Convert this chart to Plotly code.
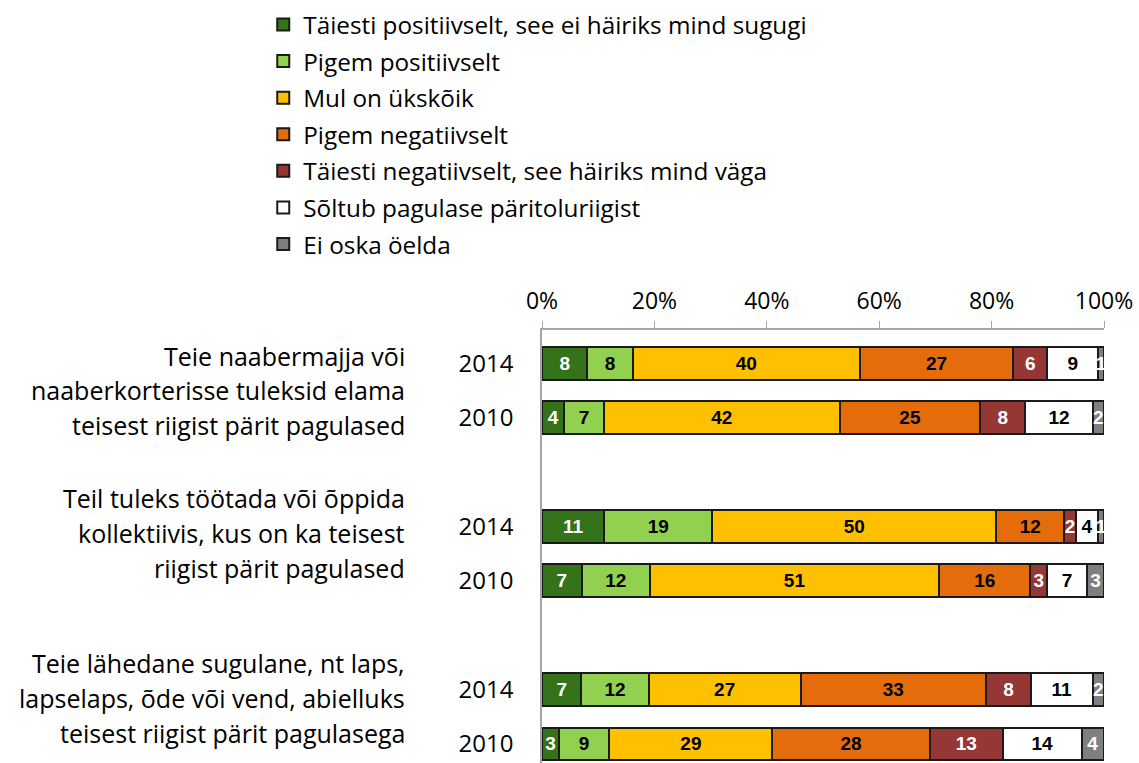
import plotly.graph_objects as go

series_names = [
    "Täiesti positiivselt, see ei häiriks mind sugugi",
    "Pigem positiivselt",
    "Mul on ükskõik",
    "Pigem negatiivselt",
    "Täiesti negatiivselt, see häiriks mind väga",
    "Sõltub pagulase päritoluriigist",
    "Ei oska öelda",
]
colors = ["#35731B", "#92D050", "#FFC000", "#E46C0A", "#953735", "#FFFFFF", "#7F7F7F"]
text_colors = ["white", "black", "black", "black", "white", "black", "white"]

questions = [
    ["Teie naabermajja või", "naaberkorterisse tuleksid elama", "teisest riigist pärit pagulased"],
    ["Teil tuleks töötada või õppida", "kollektiivis, kus on ka teisest", "riigist pärit pagulased"],
    ["Teie lähedane sugulane, nt laps,", "lapselaps, õde või vend, abielluks", "teisest riigist pärit pagulasega"],
]
years = ["2014", "2010"]
x_ticks = [0, 20, 40, 60, 80, 100]
x_tick_labels = ["0%", "20%", "40%", "60%", "80%", "100%"]

# one list per bar, values per series (in legend order)
q1_2014 = [8, 8, 40, 27, 6, 9, 1]
q1_2010 = [4, 7, 42, 25, 8, 12, 2]
q2_2014 = [11, 19, 50, 12, 2, 4, 1]
q2_2010 = [7, 12, 51, 16, 3, 7, 3]
q3_2014 = [7, 12, 27, 33, 8, 11, 2]
q3_2010 = [3, 9, 29, 28, 13, 14, 4]
rows = [q1_2014, q1_2010, q2_2014, q2_2010, q3_2014, q3_2010]

# row positions: two bars per question, one empty slot between questions
positions = []
row_labels = []
for g in range(len(questions)):
    for k, yr in enumerate(years):
        positions.append(g * 3 + k)
        row_labels.append(yr)

BAR_FONT = dict(family="Liberation Sans", size=19, weight="bold")

fig = go.Figure()
for i, name in enumerate(series_names):
    vals = [r[i] for r in rows]
    fig.add_trace(go.Bar(
        x=vals, y=positions, orientation="h", name=name,
        legendgroup=f"g{i}",
        marker=dict(color=colors[i], line=dict(color="#1a1a1a", width=2)),
        text=vals, texttemplate="<b>%{text}</b>", textposition="inside",
        insidetextanchor="middle", textangle=0, constraintext="none",
        insidetextfont=dict(BAR_FONT, color=text_colors[i]),
        textfont=dict(BAR_FONT, color=text_colors[i]),
        width=0.6,
        hoverinfo="skip",
    ))

label_centers = [0.5, 3.12, 6.16]
annotations = []
for g, lines in enumerate(questions):
    for j, line in enumerate(lines):
        annotations.append(dict(
            text=line, xref="paper", yref="y", x=-0.241, y=label_centers[g] + (j - 1) * 0.64,
            xanchor="right", yanchor="middle", showarrow=False,
            font=dict(family="Open Sans", size=25, color="black"),
        ))

fig.update_layout(
    width=1139, height=763,
    barmode="stack", barnorm="percent",
    plot_bgcolor="white", paper_bgcolor="white",
    margin=dict(l=542, r=35, t=330, b=0, pad=0),
    font=dict(family="Open Sans", color="black"),
    showlegend=True,
    legend=dict(
        x=-0.496, y=1.757, xanchor="left", yanchor="top",
        traceorder="grouped", tracegroupgap=2,
        font=dict(family="Open Sans", size=24.3, color="black"),
        itemwidth=30,
    ),
    xaxis=dict(
        side="top", range=[0, 100], tickmode="array", tickvals=x_ticks, ticktext=x_tick_labels,
        showgrid=False, zeroline=False,
        showline=True, linecolor="#a6a6a6", linewidth=1.5,
        ticks="outside", ticklen=7, tickcolor="#a6a6a6",
        ticklabelstandoff=3,
        tickfont=dict(family="Open Sans", size=23, color="black"),
    ),
    yaxis=dict(
        range=[7.35, -0.61], tickvals=positions, ticktext=row_labels,
        showgrid=False, zeroline=False, showline=True,
        linecolor="#a6a6a6", linewidth=1.5, ticks="",
        ticklabelstandoff=22,
        tickfont=dict(family="Open Sans", size=24, color="black"),
    ),
    annotations=annotations,
)

fig.write_html("out.html", config={"displayModeBar": False},
               post_script="document.body.style.margin='0';")
